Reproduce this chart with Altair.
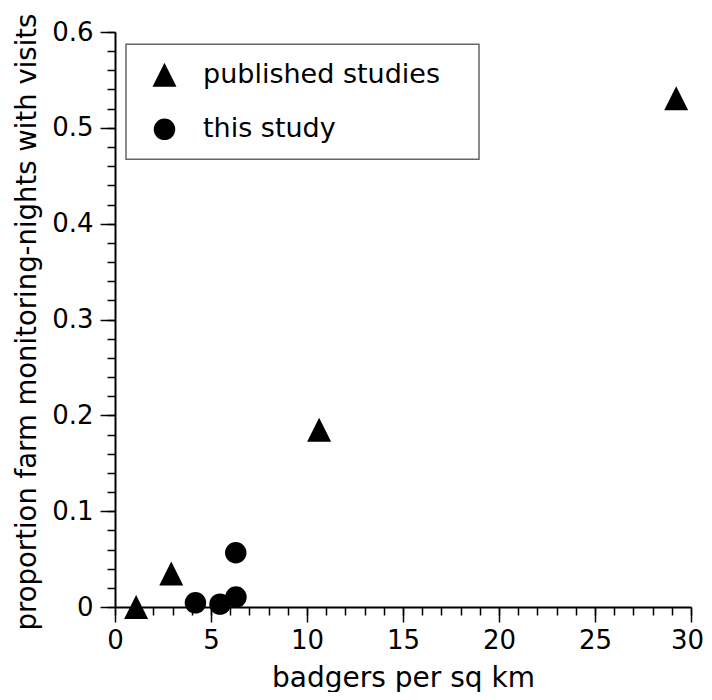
import altair as alt
import pandas as pd

# data
pub_x = [1.1, 2.93, 10.63, 29.23]
pub_y = [0.0, 0.035, 0.185, 0.531]
this_x = [4.19, 5.47, 6.3, 6.29]
this_y = [0.0044, 0.003, 0.0104, 0.0566]
groups = ["published studies", "this study"]

x_major = [0, 5, 10, 15, 20, 25, 30]
x_minor = list(range(0, 31))
y_major = [0, 0.1, 0.2, 0.3, 0.4, 0.5, 0.6]
y_minor = [0, 0.02, 0.04, 0.06, 0.08, 0.1, 0.12, 0.14, 0.16, 0.18, 0.2, 0.22, 0.24,
           0.26, 0.28, 0.3, 0.32, 0.34, 0.36, 0.38, 0.4, 0.42, 0.44, 0.46, 0.48, 0.5,
           0.52, 0.54, 0.56, 0.58, 0.6]

df = pd.DataFrame({
    "x": pub_x + this_x,
    "y": pub_y + this_y,
    "group": [groups[0]] * len(pub_x) + [groups[1]] * len(this_x),
})

FONT = "DejaVu Sans"
TRI = "M0,-1L1,1L-1,1Z"
# an invisible legend title on the right side widens the legend frame
LEGEND_KW = dict(title="\u00a0", titleOrient="right", titlePadding=22,
                 titleFontSize=27, titleFont=FONT)

xscale = alt.Scale(domain=[0, 30], nice=False, zero=False)
yscale = alt.Scale(domain=[0, 0.6], nice=False, zero=False)

common_axis = dict(grid=False, domainColor="black", tickColor="black",
                   labelColor="black", titleColor="black")

main = alt.Chart(df).mark_point(filled=True, opacity=1, strokeWidth=0).encode(
    x=alt.X("x:Q", scale=xscale, axis=alt.Axis(
        values=x_major, orient="bottom", tickSize=15, tickWidth=1.5, domainWidth=2,
        labelFontSize=26, labelFont=FONT, labelPadding=5, labelFlush=False,
        labelOverlap=False, format="d",
        labelOffset={"condition": {"test": "datum.value == 30", "value": -4}, "value": 0},
        title="badgers per sq km", titleFont=FONT, titleFontSize=28,
        titleFontWeight="normal", titleBaseline="alphabetic", titleY=79,
        **common_axis)),
    y=alt.Y("y:Q", scale=yscale, axis=alt.Axis(
        values=y_major, orient="left", tickSize=15, tickWidth=1.5, domainWidth=2,
        labelFontSize=26, labelFont=FONT, labelPadding=7, labelFlush=False,
        labelOverlap=False, format=".1~f",
        title="proportion farm monitoring-nights with visits", titleFont=FONT,
        titleFontSize=27.5, titleFontWeight="normal", titleBaseline="alphabetic",
        titleX=-80, titleY=289.5, titleAngle=270,
        **common_axis)),
    shape=alt.Shape("group:N", scale=alt.Scale(domain=groups, range=[TRI, "circle"]),
                    legend=alt.Legend(**LEGEND_KW)),
    size=alt.Size("group:N", scale=alt.Scale(type="ordinal", domain=groups, range=[576, 462]),
                  legend=alt.Legend(**LEGEND_KW)),
    color=alt.value("black"),
)

minor = alt.Chart(df).mark_point(opacity=0).encode(
    x=alt.X("x:Q", scale=xscale, axis=alt.Axis(
        values=x_minor, orient="bottom", tickSize=8, tickWidth=1.5, domain=False,
        labels=False, title=None, grid=False, tickColor="black")),
    y=alt.Y("y:Q", scale=yscale, axis=alt.Axis(
        values=y_minor, orient="left", tickSize=8, tickWidth=1.5, domain=False,
        labels=False, title=None, grid=False, tickColor="black")),
)

chart = alt.layer(main, minor).resolve_axis(
    x="independent", y="independent"
).properties(
    width=576, height=575,
    autosize=alt.AutoSizeParams(type="none"),
    padding={"left": 107, "top": 24, "right": 13, "bottom": 85},
).configure_view(strokeWidth=0).configure_legend(
    orient="none", legendX=11, legendY=12.3, padding=17,
    strokeColor="#666666", strokeWidth=1.5, fillColor="white",
    symbolOffset=8, labelOffset=25, rowPadding=26.5,
    labelFontSize=27, labelFont=FONT, labelColor="black", labelLimit=400,
    symbolFillColor="black", symbolStrokeWidth=0, symbolOpacity=1,
)

chart.save("out.html", embed_options={"renderer": "svg", "actions": False})
